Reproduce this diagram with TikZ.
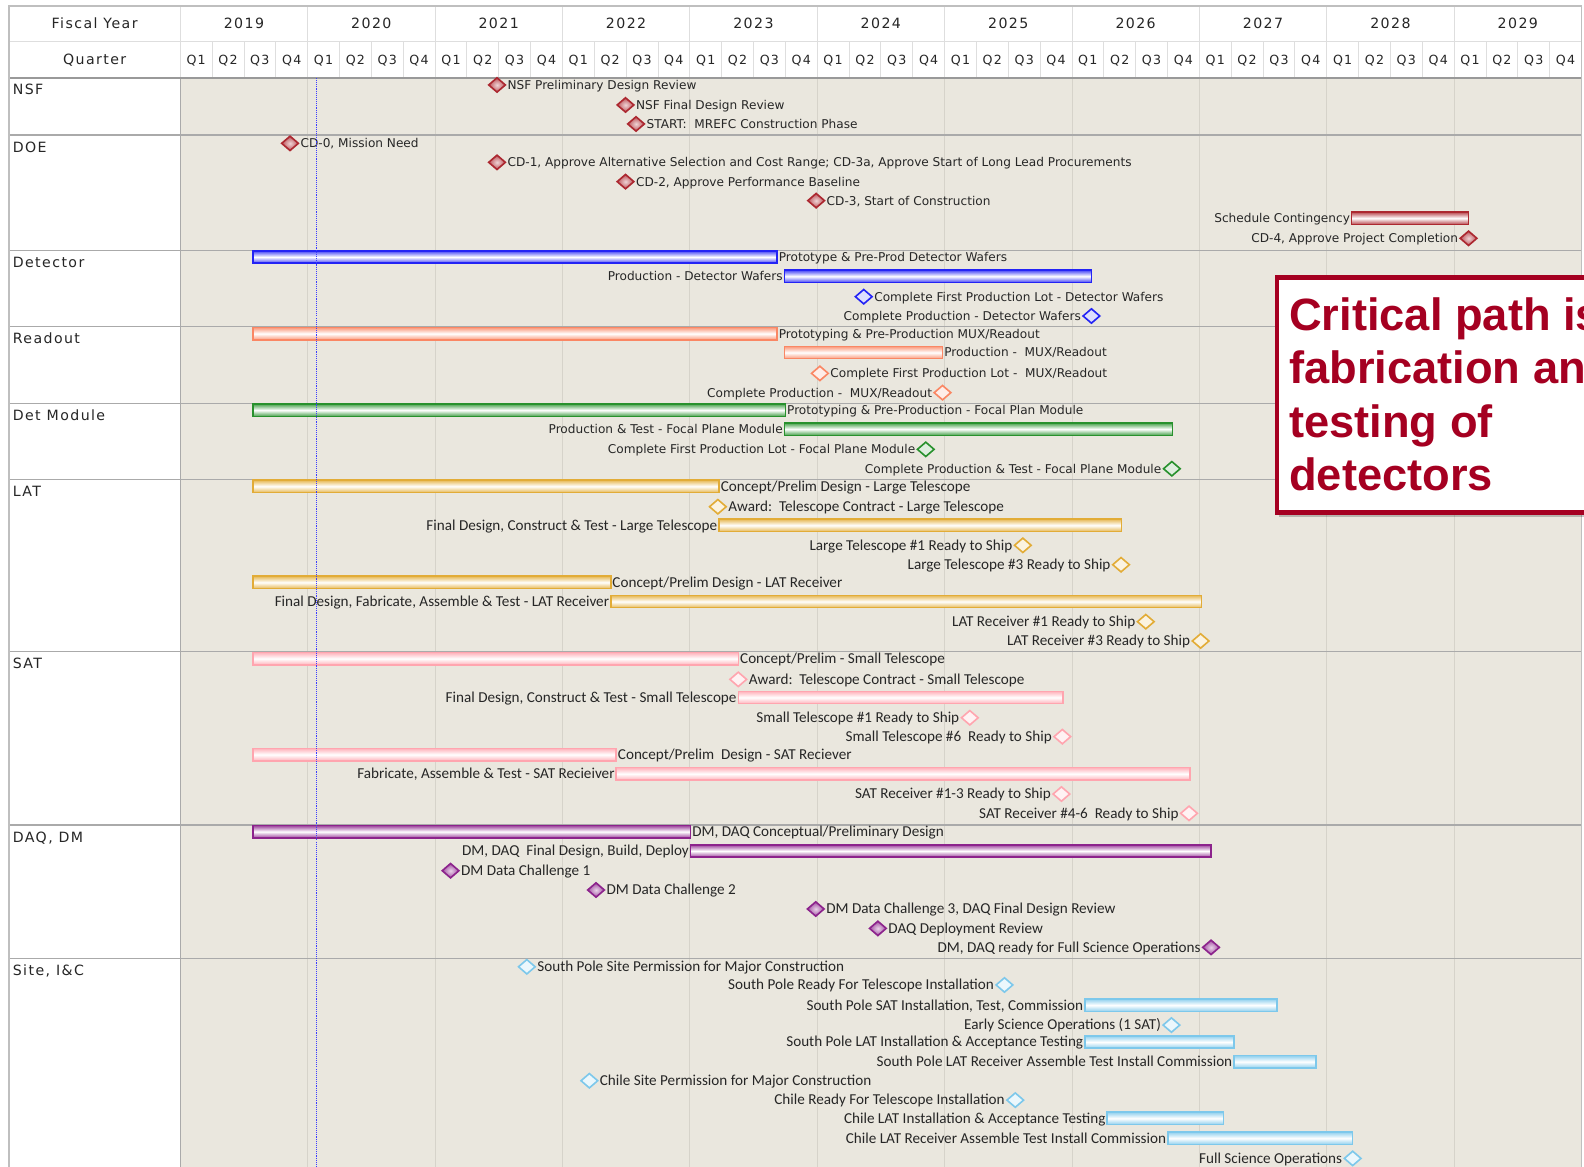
\documentclass[tikz,border=0pt]{standalone}
\usepackage{fontspec}
\setmainfont{Carlito}
\newfontfamily\upf{DejaVu Sans}
\newfontfamily\hdf[LetterSpace=10]{DejaVu Sans}
\newfontfamily\calf{Liberation Sans}
\usetikzlibrary{shapes.geometric}
\definecolor{beige}{RGB}{234,231,222}
\definecolor{txt}{RGB}{38,38,38}
\definecolor{cRed}{RGB}{172,40,48}
\definecolor{cBlue}{RGB}{35,35,245}
\definecolor{cOrg}{RGB}{250,135,100}
\definecolor{cGrn}{RGB}{40,145,45}
\definecolor{cGold}{RGB}{226,172,55}
\definecolor{cPink}{RGB}{255,165,175}
\definecolor{cPur}{RGB}{140,35,140}
\definecolor{cSky}{RGB}{125,200,235}
\definecolor{calred}{RGB}{165,0,33}
\definecolor{gridlt}{RGB}{222,222,222}
\definecolor{gridch}{RGB}{214,211,202}
\definecolor{sepc}{RGB}{170,170,170}
\definecolor{todayc}{RGB}{60,60,255}
\newcommand\DiaR[6]{\node[#2] (#1) at (#3,#4) {};\node[#5,anchor=west] (#1-l) at ([xshift=2pt]#1.east) {#6};}
\newcommand\DiaL[6]{\node[#2] (#1) at (#3,#4) {};\node[#5,anchor=east] (#1-l) at ([xshift=-2pt]#1.west) {#6};}
\newcommand\BarR[7]{\pgfmathsetmacro\gbw{#4-#3}\node[gbar=#2,minimum width=\gbw pt,anchor=west] (#1) at (#3,#5) {};\node[#6,anchor=west] (#1-l) at ([xshift=1.5pt]#1.east) {#7};}
\newcommand\BarL[7]{\pgfmathsetmacro\gbw{#4-#3}\node[gbar=#2,minimum width=\gbw pt,anchor=west] (#1) at (#3,#5) {};\node[#6,anchor=east] (#1-l) at ([xshift=-1.5pt]#1.west) {#7};}
\tikzset{
 gbar/.style={rectangle,draw=#1,line width=1.5pt,top color=#1!85,bottom color=#1!85,middle color=white,minimum height=12.2pt,inner sep=0pt,outer sep=0pt},
 dmd/.style={diamond,draw=#1,line width=1.6pt,fill=#1!15,minimum width=16.5pt,minimum height=14.2pt,inner sep=0pt,outer sep=0pt},
 dmdf/.style={diamond,draw=#1,line width=1.6pt,inner color=#1!20,outer color=#1!80,minimum width=16.5pt,minimum height=14.2pt,inner sep=0pt,outer sep=0pt},
 lblU/.style={font=\upf\fontsize{12}{14}\selectfont,text=txt,inner sep=0pt,text height=8.7pt,text depth=0pt},
 lblL/.style={font=\fontsize{15}{17}\selectfont,text=txt,inner sep=0pt,text height=9.6pt,text depth=0pt},
 sec/.style={font=\hdf\fontsize{14}{16}\selectfont,text=txt,inner sep=0pt,anchor=base west},
 hdr/.style={font=\hdf\fontsize{14}{16}\selectfont,text=txt,inner sep=0pt,text height=10.2pt,text depth=0pt},
 qlbl/.style={font=\hdf\fontsize{12.5}{14}\selectfont,text=txt,inner sep=0pt,text height=9.1pt,text depth=0pt},
 calt/.style={font=\calf\bfseries\fontsize{44.8}{52}\selectfont,text=calred,inner sep=0pt,anchor=base west},
}
\begin{document}
\begin{tikzpicture}[x=1pt,y=-1pt]
\useasboundingbox (0,0) rectangle (1568,1155);
\clip (0,0) rectangle (1568,1155);
\fill[white] (0,0) rectangle (1568,1155);
\fill[beige] (178.4,77) rectangle (1565.3,1155);
% grid
\foreach \i in {1,...,10} \draw[gridch,line width=0.8pt] ({178.4+126.1*\i},77) -- ({178.4+126.1*\i},1155);
\foreach \k in {1,...,43} \draw[gridlt,line width=0.8pt] ({178.4+31.525*\k},41.3) -- ({178.4+31.525*\k},77);
\foreach \i in {1,...,10} \draw[gridlt,line width=0.8pt] ({178.4+126.1*\i},6) -- ({178.4+126.1*\i},41.3);
\draw[gridlt,line width=0.8pt] (178.4,6) -- (178.4,77);
\draw[gridlt,line width=0.8pt] (9,41.3) -- (1565.3,41.3);
\draw[sepc,line width=1.1pt] (178.4,77) -- (178.4,1155);
\foreach \yy in {133.6,248,323,399,474.8,645,816.7,948.7} \draw[sepc,line width=1.1pt] (9,\yy) -- (1565.3,\yy);
\draw[black!40,line width=1.5pt] (9,77) -- (1565.3,77);
\draw[black!25,line width=1.2pt] (9,1155) -- (9,6) -- (1565.3,6) -- (1565.3,1155);
% header
\node[hdr] (fy) at (93.7,23.6) {Fiscal Year};
\node[hdr] (qt) at (93.7,59.2) {Quarter};
\foreach \i in {0,...,10} {\pgfmathsetmacro\yx{178.4+126.1*\i+63.05}\pgfmathtruncatemacro\yr{2019+\i}\node[hdr] (yr\i) at (\yx,23.6) {\yr};}
\foreach \k in {0,...,43} {\pgfmathtruncatemacro\qn{mod(\k,4)+1}\pgfmathsetmacro\qx{178.4+31.525*(\k+0.5)}\node[qlbl] (q\k) at (\qx,59.2) {Q\qn};}
% section labels
\node[sec] (lnsf) at (12.5,94) {NSF};
\node[sec] (ldoe) at (12.5,150.6) {DOE};
\node[sec] (ldet) at (12.5,265) {Detector};
\node[sec] (lro) at (12.5,340) {Readout};
\node[sec] (ldm) at (12.5,416) {Det Module};
\node[sec] (llat) at (12.5,491.8) {LAT};
\node[sec] (lsat) at (12.5,662) {SAT};
\node[sec] (ldaq) at (12.5,833.7) {DAQ, DM};
\node[sec] (lsite) at (12.5,965.7) {Site, I\&C};
% NSF
\DiaR{nsf1}{dmdf=cRed}{492}{84.1}{lblU}{NSF Preliminary Design Review}
\DiaR{nsf2}{dmdf=cRed}{619.2}{103.9}{lblU}{NSF Final Design Review}
\DiaR{nsf3}{dmdf=cRed}{629.6}{122.7}{lblU}{START:\ \ MREFC Construction Phase}
% DOE
\DiaR{doe0}{dmdf=cRed}{287.1}{141.9}{lblU}{CD-0, Mission Need}
\DiaR{doe1}{dmdf=cRed}{492}{160.7}{lblU}{CD-1, Approve Alternative Selection and Cost Range; CD-3a, Approve Start of Long Lead Procurements}
\DiaR{doe2}{dmdf=cRed}{619.2}{179.8}{lblU}{CD-2, Approve Performance Baseline}
\DiaR{doe3}{dmdf=cRed}{807.9}{198.6}{lblU}{CD-3, Start of Construction}
\BarL{doec}{cRed}{1338}{1453.7}{216}{lblU}{Schedule Contingency}
\DiaL{doe4}{dmdf=cRed}{1453.7}{235.9}{lblU}{CD-4, Approve Project Completion}
% Detector
\BarR{det1}{cBlue}{250.5}{769.2}{254.4}{lblU}{Prototype \& Pre-Prod Detector Wafers}
\BarL{det2}{cBlue}{776.5}{1080.4}{273.5}{lblU}{Production - Detector Wafers}
\DiaR{det3}{dmd=cBlue}{855}{293.7}{lblU}{Complete First Production Lot - Detector Wafers}
\DiaL{det4}{dmd=cBlue}{1080.4}{312.8}{lblU}{Complete Production - Detector Wafers}
% Readout
\BarR{ro1}{cOrg}{250.5}{769.2}{330.3}{lblU}{Prototyping \& Pre-Production MUX/Readout}
\BarR{ro2}{cOrg}{776.5}{933}{349}{lblU}{Production -\ \ MUX/Readout}
\DiaR{ro3}{dmd=cOrg}{811.6}{369.6}{lblU}{Complete First Production Lot -\ \ MUX/Readout}
\DiaL{ro4}{dmd=cOrg}{933}{388.7}{lblU}{Complete Production -\ \ MUX/Readout}
% Det Module
\BarR{dm1}{cGrn}{250.5}{777.5}{406}{lblU}{Prototyping \& Pre-Production - Focal Plan Module}
\BarL{dm2}{cGrn}{776.5}{1160.7}{424.8}{lblU}{Production \& Test - Focal Plane Module}
\DiaL{dm3}{dmd=cGrn}{916.4}{444.8}{lblU}{Complete First Production Lot - Focal Plane Module}
\DiaL{dm4}{dmd=cGrn}{1160}{464}{lblU}{Complete Production \& Test - Focal Plane Module}
% LAT
\BarR{lat1}{cGold}{250.5}{711.8}{481.4}{lblL}{Concept/Prelim Design - Large Telescope}
\DiaR{lat2}{dmd=cGold}{710.6}{501.6}{lblL}{Award:\ \ Telescope Contract - Large Telescope}
\BarL{lat3}{cGold}{711.7}{1110.3}{520}{lblL}{Final Design, Construct \& Test - Large Telescope}
\DiaL{lat4}{dmd=cGold}{1012.5}{539.8}{lblL}{Large Telescope \#1 Ready to Ship}
\DiaL{lat5}{dmd=cGold}{1109.7}{559}{lblL}{Large Telescope \#3 Ready to Ship}
\BarR{lat6}{cGold}{250.5}{604.6}{576.5}{lblL}{Concept/Prelim Design - LAT Receiver}
\BarL{lat7}{cGold}{604.6}{1189.4}{595.5}{lblL}{Final Design, Fabricate, Assemble \& Test - LAT Receiver}
\DiaL{lat8}{dmd=cGold}{1134.2}{615.4}{lblL}{LAT Receiver \#1 Ready to Ship}
\DiaL{lat9}{dmd=cGold}{1188.5}{634.5}{lblL}{LAT Receiver \#3 Ready to Ship}
% SAT
\BarR{sat1}{cPink}{250.5}{731}{652}{lblL}{Concept/Prelim - Small Telescope}
\DiaR{sat2}{dmd=cPink}{730.8}{672.5}{lblL}{Award:\ \ Telescope Contract - Small Telescope}
\BarL{sat3}{cPink}{730.8}{1052.5}{690.4}{lblL}{Final Design, Construct \& Test - Small Telescope}
\DiaL{sat4}{dmd=cPink}{960}{710.5}{lblL}{Small Telescope \#1 Ready to Ship}
\DiaL{sat5}{dmd=cPink}{1051.6}{729.2}{lblL}{Small Telescope \#6\ \ Ready to Ship}
\BarR{sat6}{cPink}{250.5}{610}{747}{lblL}{Concept/Prelim\ \ Design - SAT Reciever}
\BarL{sat7}{cPink}{610}{1177.8}{766}{lblL}{Fabricate, Assemble \& Test - SAT Recieiver}
\DiaL{sat8}{dmd=cPink}{1050.7}{786}{lblL}{SAT Receiver \#1-3 Ready to Ship}
\DiaL{sat9}{dmd=cPink}{1177}{805.1}{lblL}{SAT Receiver \#4-6\ \ Ready to Ship}
% DAQ, DM
\BarR{daq1}{cPur}{250.6}{683.6}{823.3}{lblL}{DM, DAQ Conceptual/Preliminary Design}
\BarL{daq2}{cPur}{683.6}{1198.8}{842.4}{lblL}{DM, DAQ\ \ Final Design, Build, Deploy}
\DiaR{daq3}{dmdf=cPur}{446}{861.9}{lblL}{DM Data Challenge 1}
\DiaR{daq4}{dmdf=cPur}{590}{881}{lblL}{DM Data Challenge 2}
\DiaR{daq5}{dmdf=cPur}{807.5}{899.8}{lblL}{DM Data Challenge 3, DAQ Final Design Review}
\DiaR{daq6}{dmdf=cPur}{869}{919}{lblL}{DAQ Deployment Review}
\DiaL{daq7}{dmdf=cPur}{1198.8}{937.8}{lblL}{DM, DAQ ready for Full Science Operations}
% Site
\DiaR{s1}{dmd=cSky}{521.5}{957}{lblL}{South Pole Site Permission for Major Construction}
\DiaL{s2}{dmd=cSky}{994.3}{975}{lblL}{South Pole Ready For Telescope Installation}
\BarL{s3}{cSky}{1073.9}{1264}{995}{lblL}{South Pole SAT Installation, Test, Commission}
\DiaL{s4}{dmd=cSky}{1159.6}{1014.7}{lblL}{Early Science Operations (1 SAT)}
\BarL{s5}{cSky}{1073.9}{1221.5}{1031.5}{lblL}{South Pole LAT Installation \& Acceptance Testing}
\BarL{s6}{cSky}{1221.5}{1302.8}{1051}{lblL}{South Pole LAT Receiver Assemble Test Install Commission}
\DiaR{s7}{dmd=cSky}{583.4}{1069.8}{lblL}{Chile Site Permission for Major Construction}
\DiaL{s8}{dmd=cSky}{1005}{1089}{lblL}{Chile Ready For Telescope Installation}
\BarL{s9}{cSky}{1096}{1211}{1107}{lblL}{Chile LAT Installation \& Acceptance Testing}
\BarL{s10}{cSky}{1156}{1339}{1126.7}{lblL}{Chile LAT Receiver Assemble Test Install Commission}
\DiaL{s11}{dmd=cSky}{1339}{1146.7}{lblL}{Full Science Operations}
% today line
\draw[todayc,densely dotted,line width=1.1pt] (313.7,77) -- (313.7,1155);
% callout
\fill[black,opacity=0.22] (1266.5,277.5) rectangle (1640,511.5);
\node[draw=calred,line width=4.85pt,fill=white,anchor=north west,minimum width=360pt,minimum height=232.8pt,inner sep=0pt,outer sep=0pt] (callout) at (1264.1,274.6) {};
\node[calt] (ct1) at (1276,327.2) {Critical path is};
\node[calt] (ct2) at (1276,380) {fabrication and};
\node[calt] (ct3) at (1276,432.8) {testing of};
\node[calt] (ct4) at (1276,485.6) {detectors};
\end{tikzpicture}
\end{document}
